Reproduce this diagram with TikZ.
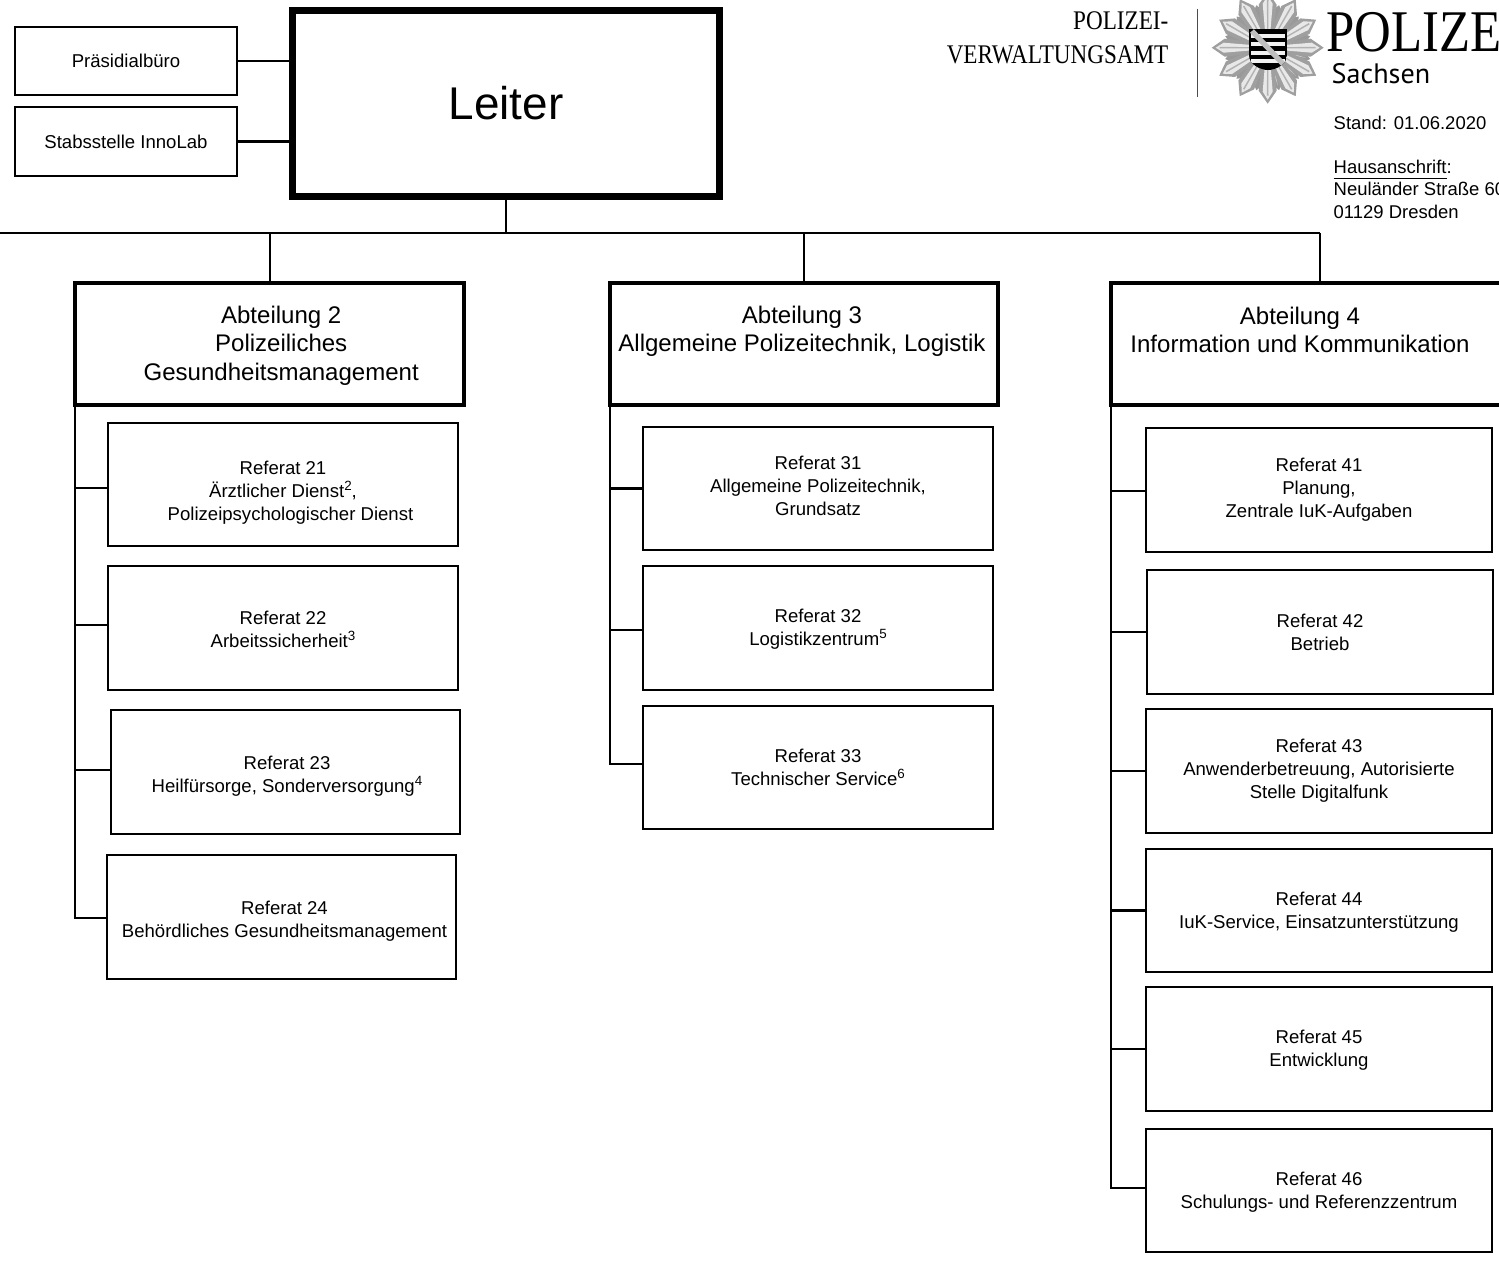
\documentclass[tikz,border=0pt]{standalone}
\usepackage{fontspec}
\setmainfont{Liberation Sans}
\newfontfamily\logofont[FakeStretch=0.86]{Liberation Serif}
\newfontfamily\landfont{PT Sans}
\usetikzlibrary{positioning}
\newcommand{\hochz}[1]{\raisebox{0.72ex}{\fontsize{3.8}{4}\selectfont #1}}
\tikzset{
    refbox/.style={draw, line width=0.55pt, outer sep=0pt, minimum width=3.49cm, minimum height=1.235cm, align=center, font=\fontsize{5.28}{6.5}\selectfont},
    stabbox/.style={draw, line width=0.55pt, outer sep=0pt, minimum width=2.22cm, minimum height=0.685cm, font=\fontsize{5.28}{6.5}\selectfont},
    abtbox/.style={draw, line width=1.15pt, outer sep=0pt, minimum width=3.887cm, minimum height=1.22cm, align=center, font=\fontsize{6.83}{8.1}\selectfont},
    conn/.style={line width=0.58pt},
    every label/.style={align=center},
    reftext/.style 2 args={label={[font=\fontsize{5.28}{6.5}\selectfont, #1]center:{#2}}},
    abttext/.style 2 args={label={[font=\fontsize{6.83}{8.1}\selectfont, #1]center:{#2}}}
}

\begin{document}
\begin{tikzpicture}[x=0.01cm, y=-0.01cm]
    \useasboundingbox (0, 0) rectangle (1499, 1267);
    \clip (0, 0) rectangle (1499, 1267);

    \node[draw, line width=2pt, outer sep=0pt, minimum width=4.27cm, minimum height=1.86cm, font=\fontsize{13.05}{16}\selectfont] (leiter) at (506, 103.5) {Leiter};
    \node[stabbox] (praes) at (126, 61) {Präsidialbüro};
    \node[stabbox] (inno) at (126, 141.5) {Stabsstelle InnoLab};

    \node[abtbox, abttext={xshift=0.115cm, yshift=-0.015cm}{Abteilung 2\\Polizeiliches\\Gesundheitsmanagement}] (a2) at (269.7, 344) {};
    \node[abtbox, abttext={xshift=-0.02cm, yshift=0.01cm}{Abteilung 3\\Allgemeine Polizeitechnik, Logistik\\ \mbox{}}] (a3) at (804, 344) {};
    \node[abtbox, minimum width=3.89cm, abttext={xshift=-0.06cm}{Abteilung 4\\Information und Kommunikation\\ \mbox{}}] (a4) at (1306, 344) {};

    \node[refbox, reftext={yshift=-0.085cm}{Referat 21\\Ärztlicher Dienst\hochz{2},\\\hspace*{0.15cm}Polizeipsychologischer Dienst}] (r21) at (283, 484.5) {};
    \node[refbox, reftext={yshift=-0.015cm}{Referat 22\\Arbeitssicherheit\hochz{3}}] (r22) at (283, 628) {};
    \node[refbox, reftext={xshift=0.015cm, yshift=-0.04cm}{Referat 23\\Heilfürsorge, Sonderversorgung\hochz{4}}] (r23) at (285.5, 772) {};
    \node[refbox, reftext={xshift=0.03cm, yshift=-0.04cm}{Referat 24\\Behördliches Gesundheitsmanagement}] (r24) at (281.5, 917) {};

    \node[refbox, reftext={yshift=0.025cm}{Referat 31\\Allgemeine Polizeitechnik,\\Grundsatz}] (r31) at (818, 488.5) {};
    \node[refbox, reftext={yshift=-0.015cm}{Referat 32\\Logistikzentrum\hochz{5}}] (r32) at (818, 628) {};
    \node[refbox] (r33) at (818, 767.5) {Referat 33\\Technischer Service\hochz{6}};

    \node[refbox, minimum width=3.46cm] (r41) at (1319, 490) {Referat 41\\Planung,\\Zentrale IuK-Aufgaben};
    \node[refbox, minimum width=3.46cm] (r42) at (1320, 632) {Referat 42\\Betrieb};
    \node[refbox, minimum width=3.46cm] (r43) at (1319, 771) {Referat 43\\Anwenderbetreuung, Autorisierte\\Stelle Digitalfunk};
    \node[refbox, minimum width=3.46cm, reftext={yshift=-0.02cm}{Referat 44\\IuK-Service, Einsatzunterstützung}] (r44) at (1319, 910.5) {};
    \node[refbox, minimum width=3.46cm, reftext={yshift=-0.01cm}{Referat 45\\Entwicklung}] (r45) at (1319, 1049) {};
    \node[refbox, minimum width=3.46cm, reftext={yshift=-0.015cm}{Referat 46\\Schulungs- und Referenzzentrum}] (r46) at (1319, 1190.5) {};

    % leiter and top line
    \coordinate (busl) at (0, 233);
    \coordinate (busr) at (1320, 233);
    \draw[conn] (praes) -- (praes -| leiter.west);
    \draw[conn] (inno) -- (inno -| leiter.west);
    \draw[conn] (leiter.south) -- (leiter.south |- busl);
    \draw[conn] (busl) -- (busr);
    \draw[conn] (a2.north |- busl) -- (a2.north);
    \draw[conn] (a3.north |- busl) -- (a3.north);
    \draw[conn] (busr) -- (busr |- a4.north);

    % abteilung 2
    \draw[conn] (a2.south west) |- ([yshift=-0.35mm]r21.west);
    \draw[conn] (a2.south west) |- ([yshift=0.3mm]r22.west);
    \draw[conn] (a2.south west) |- ([yshift=0.2mm]r23.west);
    \draw[conn] (a2.south west) |- ([yshift=-0.1mm]r24.west);
    % abteilung 3
    \draw[conn] (a3.south west) |- (r31.west);
    \draw[conn] (a3.south west) |- ([yshift=-0.2mm]r32.west);
    \draw[conn] (a3.south west) |- ([yshift=0.35mm]r33.west);
    % abteilung 4
    \draw[conn] (a4.south west) |- ([yshift=-0.1mm]r41.west);
    \draw[conn] (a4.south west) |- (r42.west);
    \draw[conn] (a4.south west) |- (r43.west);
    \draw[conn] (a4.south west) |- (r44.west);
    \draw[conn] (a4.south west) |- (r45.west);
    \draw[conn] (a4.south west) |- ([yshift=0.25mm]r46.west);

    % logo
    \node[anchor=base east, inner sep=0pt, font=\logofont\fontsize{7.65}{8}\selectfont] (amt1) at (1169, 30) {POLIZEI-};
    \node[anchor=base east, inner sep=0pt, font=\logofont\fontsize{7.65}{8}\selectfont] (amt2) at (1169, 64) {VERWALTUNGSAMT};
    \draw[line width=0.5pt, black!70] (1197.5, 9) -- (1197.5, 97);
    \begin{scope}[shift={(1267.7, 47.7)}]
        \fill[gray!70] (0, 0) circle (30);
        \foreach \a in {0, 30, ..., 330} {
            \fill[gray!80, rotate=\a + 15] (0, 0) -- (-12, 28) -- (0, 44) -- (12, 28) -- cycle;
            \fill[gray!45, rotate=\a + 15] (18, -1.5) -- (40, 0) -- (18, 1.5) -- cycle;
        }
        \foreach \a in {0, 30, ..., 330} {
            \fill[gray!75, rotate=\a] (8, -5) -- (43, -9) -- (56, 0) -- (43, 9) -- (8, 5) -- cycle;
            \fill[gray!18, rotate=\a] (14, -2.5) -- (44, -5) -- (52, 0) -- (44, 5) -- (14, 2.5) -- cycle;
            \fill[gray!60, rotate=\a] (14, -0.6) -- (48, -0.8) -- (48, 0.8) -- (14, 0.6) -- cycle;
        }
    \end{scope}
    \begin{scope}
        \clip (1249, 29) -- (1287, 29) -- (1287, 55) .. controls (1287, 65) and (1275, 70) .. (1268, 70) .. controls (1261, 70) and (1249, 65) .. (1249, 55) -- cycle;
        \fill[black] (1249, 29) rectangle (1287, 70);
        \foreach \y in {34, 42.5, 51, 59.5} {
            \fill[gray!10] (1251, \y) rectangle (1285, \y + 4);
        }
        \draw[line width=1.5pt, gray!50] (1252, 31) -- (1284, 65);
    \end{scope}
    \node[anchor=base west, inner sep=0pt, font=\logofont\fontsize{16.8}{18}\selectfont] (pol) at (1326, 52) {POLIZE};
    \node[anchor=base west, inner sep=0pt, font=\landfont\fontsize{8}{9}\selectfont] (land) at (1331, 84) {Sachsen};
    \node[anchor=north west, inner sep=0pt, align=left, font=\fontsize{5.25}{6.33}\selectfont] (stand) at (1333, 115) {Stand: 01.06.2020\\ \mbox{}\\\underline{Hausanschrift}:\\Neuländer Straße 60\\01129 Dresden};
\end{tikzpicture}
\end{document}
